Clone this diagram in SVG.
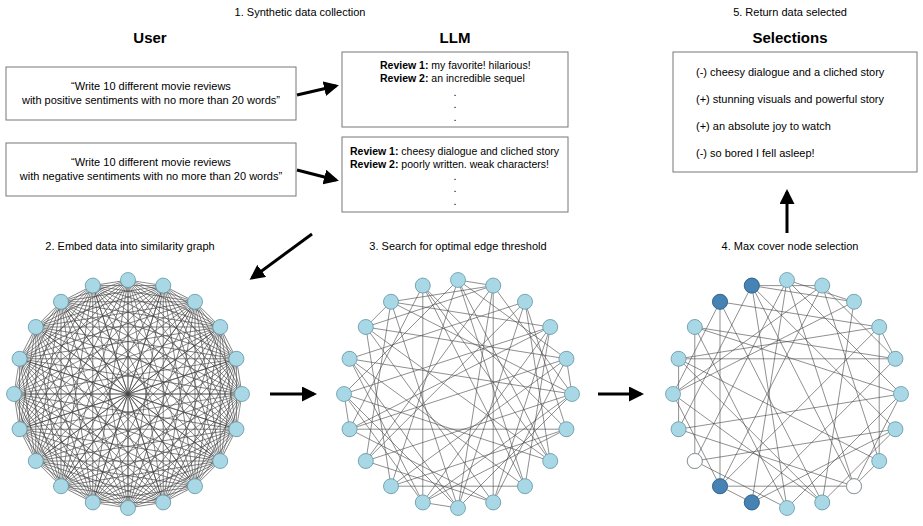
<svg xmlns="http://www.w3.org/2000/svg" xmlns:xlink="http://www.w3.org/1999/xlink" width="923" height="526" viewBox="0 0 923 526">
<style>
text{font-family:"Liberation Sans",Arial,sans-serif;font-size:11px;fill:#000}
.h{font-size:15px;font-weight:bold}
.b{font-weight:bold}
.s{font-size:10.5px}
.box{fill:#fff;stroke:#777;stroke-width:1}
.arr{stroke:#000;stroke-width:3;fill:none;marker-end:url(#ah)}
.e{stroke:#444;stroke-width:0.6;fill:none}
.n{fill:#a8d8e6;stroke:#6a9aaa;stroke-width:0.8}
</style>
<defs>
<marker id="ah" viewBox="0 0 10 10" refX="8" refY="5" markerWidth="5" markerHeight="5" orient="auto"><path d="M0,0L10,5L0,10z" fill="#000"/></marker>
<g id="chords" class="e">
<path d="M0,-114L35.2,-108.4M0,-114L67,-92.2M0,-114L92.2,-67M0,-114L108.4,-35.2M0,-114L114,0M0,-114L108.4,35.2M0,-114L92.2,67M0,-114L67,92.2M0,-114L35.2,108.4M0,-114L0,114"/>
</g>
<circle id="nd" class="n" cx="0" cy="-114" r="7.5"/>
<g id="nodes">
<use xlink:href="#nd"/><use xlink:href="#nd" transform="rotate(18)"/><use xlink:href="#nd" transform="rotate(36)"/><use xlink:href="#nd" transform="rotate(54)"/><use xlink:href="#nd" transform="rotate(72)"/><use xlink:href="#nd" transform="rotate(90)"/><use xlink:href="#nd" transform="rotate(108)"/><use xlink:href="#nd" transform="rotate(126)"/><use xlink:href="#nd" transform="rotate(144)"/><use xlink:href="#nd" transform="rotate(162)"/><use xlink:href="#nd" transform="rotate(180)"/><use xlink:href="#nd" transform="rotate(198)"/><use xlink:href="#nd" transform="rotate(216)"/><use xlink:href="#nd" transform="rotate(234)"/><use xlink:href="#nd" transform="rotate(252)"/><use xlink:href="#nd" transform="rotate(270)"/><use xlink:href="#nd" transform="rotate(288)"/><use xlink:href="#nd" transform="rotate(306)"/><use xlink:href="#nd" transform="rotate(324)"/><use xlink:href="#nd" transform="rotate(342)"/>
</g>
</defs>

<g id="labels">
<text x="300" y="16" text-anchor="middle">1. Synthetic data collection</text>
<text x="150" y="43" text-anchor="middle" class="h">User</text>
<text x="455" y="43" text-anchor="middle" class="h">LLM</text>
<text x="790" y="16" text-anchor="middle">5. Return data selected</text>
<text x="790" y="43" text-anchor="middle" class="h">Selections</text>
<text x="130" y="250" text-anchor="middle">2. Embed data into similarity graph</text>
<text x="458" y="250" text-anchor="middle">3. Search for optimal edge threshold</text>
<text x="790" y="250" text-anchor="middle">4. Max cover node selection</text>
</g>

<g id="user1"><rect class="box" x="6" y="67" width="290" height="53"/>
<text x="151" y="90" text-anchor="middle">“Write 10 different movie reviews</text>
<text x="151" y="104" text-anchor="middle">with positive sentiments with no more than 20 words”</text></g>
<g id="user2"><rect class="box" x="6" y="143" width="290" height="53"/>
<text x="151" y="166" text-anchor="middle">“Write 10 different movie reviews</text>
<text x="151" y="180" text-anchor="middle">with negative sentiments with no more than 20 words”</text></g>

<g id="llm1"><rect class="box" x="342" y="52" width="226" height="75"/>
<text x="380" y="69" class="s"><tspan class="b">Review 1:</tspan> my favorite! hilarious!</text>
<text x="380" y="82" class="s"><tspan class="b">Review 2:</tspan> an incredible sequel</text>
<text x="455" y="96" text-anchor="middle">.</text><text x="455" y="108" text-anchor="middle">.</text><text x="455" y="121" text-anchor="middle">.</text></g>
<g id="llm2"><rect class="box" x="342" y="137" width="226" height="75"/>
<text x="350" y="155" class="s"><tspan class="b">Review 1:</tspan> cheesy dialogue and cliched story</text>
<text x="350" y="168" class="s"><tspan class="b">Review 2:</tspan> poorly written. weak characters!</text>
<text x="455" y="180" text-anchor="middle">.</text><text x="455" y="192" text-anchor="middle">.</text><text x="455" y="205" text-anchor="middle">.</text></g>

<g id="sel"><rect class="box" x="673" y="52" width="244" height="120"/>
<text x="696" y="76">(-) cheesy dialogue and a cliched story</text>
<text x="696" y="103">(+) stunning visuals and powerful story</text>
<text x="696" y="130">(+) an absolute joy to watch</text>
<text x="696" y="157">(-) so bored I fell asleep!</text></g>

<g id="connectors">
<path class="arr" d="M297,95L336,86"/>
<path class="arr" d="M297,170L336,180"/>
<path class="arr" d="M312,234L252,278"/>
<path class="arr" d="M270,394L314,394"/>
<path class="arr" d="M598,394L641,394"/>
<path class="arr" d="M787,233L787,192"/>
</g>

<g id="graph1" transform="translate(128,394)">
<use xlink:href="#chords"/><use xlink:href="#chords" transform="rotate(18)"/><use xlink:href="#chords" transform="rotate(36)"/><use xlink:href="#chords" transform="rotate(54)"/><use xlink:href="#chords" transform="rotate(72)"/><use xlink:href="#chords" transform="rotate(90)"/><use xlink:href="#chords" transform="rotate(108)"/><use xlink:href="#chords" transform="rotate(126)"/><use xlink:href="#chords" transform="rotate(144)"/><use xlink:href="#chords" transform="rotate(162)"/><use xlink:href="#chords" transform="rotate(180)"/><use xlink:href="#chords" transform="rotate(198)"/><use xlink:href="#chords" transform="rotate(216)"/><use xlink:href="#chords" transform="rotate(234)"/><use xlink:href="#chords" transform="rotate(252)"/><use xlink:href="#chords" transform="rotate(270)"/><use xlink:href="#chords" transform="rotate(288)"/><use xlink:href="#chords" transform="rotate(306)"/><use xlink:href="#chords" transform="rotate(324)"/><use xlink:href="#chords" transform="rotate(342)"/>
<use xlink:href="#nodes"/>
</g>

<g id="graph2" transform="translate(458,394)">
<path class="e" d="M0,-114L92.2,67M0,-114L-67,92.2M0,-114L108.4,-35.2M0,-114L-114,0M35.2,-108.4L35.2,108.4M35.2,-108.4L-92.2,67M35.2,-108.4L114,0M35.2,-108.4L-92.2,-67M67,-92.2L0,114M67,-92.2L-108.4,-35.2M67,-92.2L108.4,35.2M67,-92.2L-92.2,67M92.2,-67L-35.2,108.4M92.2,-67L-67,-92.2M92.2,-67L67,92.2M92.2,-67L-108.4,35.2M108.4,-35.2L-67,92.2M108.4,-35.2L-92.2,-67M108.4,-35.2L35.2,108.4M114,0L-92.2,67M114,0L0,114M114,0L-67,-92.2M108.4,35.2L-108.4,35.2M108.4,35.2L-35.2,-108.4M108.4,35.2L-35.2,108.4M92.2,67L-114,0M92.2,67L-35.2,-108.4M92.2,67L67,-92.2M67,92.2L-108.4,-35.2M67,92.2L-67,92.2M67,92.2L0,-114M35.2,108.4L-92.2,-67M35.2,108.4L-108.4,35.2M35.2,108.4L92.2,-67M0,114L-67,-92.2M0,114L-114,0M0,114L35.2,-108.4M-35.2,108.4L-35.2,-108.4M-35.2,108.4L-108.4,-35.2M-35.2,108.4L114,0M-67,92.2L-92.2,-67M-67,92.2L108.4,35.2M-92.2,67L-67,-92.2M-92.2,67L35.2,108.4M-108.4,35.2L-35.2,-108.4M-108.4,35.2L108.4,-35.2M-114,0L92.2,-67M-114,0L-35.2,108.4M-108.4,-35.2L114,0M-108.4,-35.2L0,114M-92.2,-67L92.2,67M-67,-92.2L35.2,-108.4M-35.2,-108.4L67,92.2M0,-114L35.2,-108.4M108.4,-35.2L114,0M0,114L-35.2,108.4M-108.4,35.2L-114,0M-92.2,-67L-67,-92.2"/>
<use xlink:href="#nodes"/>
</g>

<g id="graph3" transform="translate(787,394)">
<path class="e" d="M0,-114L-35.2,108.4M0,-114L67,92.2M0,-114L114,0M-35.2,-108.4L108.4,35.2M-35.2,-108.4L0,114M-35.2,-108.4L-108.4,35.2M-67,-92.2L92.2,-67M-67,-92.2L35.2,108.4M-67,-92.2L-67,92.2M-92.2,-67L108.4,-35.2M-92.2,-67L-92.2,67M35.2,-108.4L-67,92.2M35.2,-108.4L92.2,67M67,-92.2L-114,0M67,-92.2L35.2,108.4M92.2,-67L-108.4,-35.2M108.4,-35.2L-35.2,108.4M114,0L-108.4,35.2M114,0L-92.2,-67M108.4,35.2L-92.2,67M92.2,67L-108.4,-35.2M67,92.2L-67,92.2M67,92.2L-35.2,-108.4M35.2,108.4L-114,0M0,114L-92.2,-67M-35.2,108.4L108.4,35.2M-67,92.2L92.2,-67M-92.2,67L0,-114M-108.4,35.2L67,92.2M-114,0L35.2,-108.4M-108.4,-35.2L108.4,-35.2M-108.4,-35.2L35.2,108.4M67,-92.2L-35.2,-108.4M92.2,-67L92.2,67M35.2,-108.4L108.4,-35.2M114,0L67,92.2M108.4,35.2L35.2,108.4M0,114L-92.2,67M-67,92.2L-114,0M-114,0L-67,-92.2M-35.2,108.4L-67,92.2M92.2,67L67,92.2M92.2,-67L108.4,-35.2M0,-114L67,-92.2M-108.4,35.2L-108.4,-35.2M-35.2,-108.4L35.2,-108.4M0,114L114,0"/>
<use xlink:href="#nodes"/>
<circle cx="-35.2" cy="-108.4" r="7.5" fill="#4682b4" stroke="#2c5f8a" stroke-width="0.8"/>
<circle cx="-67" cy="-92.2" r="7.5" fill="#4682b4" stroke="#2c5f8a" stroke-width="0.8"/>
<circle cx="-35.2" cy="108.4" r="7.5" fill="#4682b4" stroke="#2c5f8a" stroke-width="0.8"/>
<circle cx="-67" cy="92.2" r="7.5" fill="#4682b4" stroke="#2c5f8a" stroke-width="0.8"/>
<circle cx="-92.2" cy="67" r="7.5" fill="#fff" stroke="#888" stroke-width="0.8"/>
<circle cx="67" cy="92.2" r="7.5" fill="#fff" stroke="#888" stroke-width="0.8"/>
</g>
</svg>
